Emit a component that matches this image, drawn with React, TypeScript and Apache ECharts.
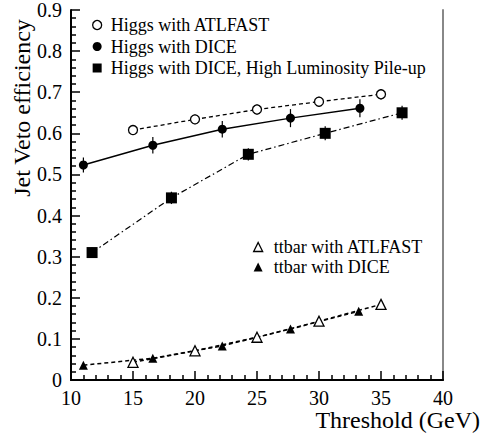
import React, { useEffect, useRef } from "react";
import * as echarts from "echarts";

const higgsAtlfastX = [15, 20, 25, 30, 35];
const higgsAtlfastY = [0.608, 0.634, 0.658, 0.677, 0.695];
const higgsAtlfastErr = [0.012, 0.012, 0.012, 0.012, 0.013];

const higgsDiceX = [11.0, 16.6, 22.2, 27.7, 33.3];
const higgsDiceY = [0.523, 0.571, 0.61, 0.637, 0.661];
const higgsDiceErr = [0.018, 0.02, 0.02, 0.022, 0.022];

const pileupX = [11.7, 18.1, 24.3, 30.5, 36.7];
const pileupY = [0.31, 0.443, 0.549, 0.6, 0.65];
const pileupErr = [0.012, 0.015, 0.015, 0.017, 0.017];

const ttAtlfastX = [15, 20, 25, 30, 35];
const ttAtlfastY = [0.043, 0.071, 0.104, 0.143, 0.184];
const ttAtlfastErr = [0.005, 0.005, 0.006, 0.006, 0.007];

const ttDiceX = [11.0, 16.6, 22.2, 27.7, 33.2];
const ttDiceY = [0.036, 0.053, 0.083, 0.124, 0.167];
const ttDiceErr = [0.004, 0.005, 0.005, 0.006, 0.007];

const seriesNames = [
  "Higgs with ATLFAST",
  "Higgs with DICE",
  "Higgs with DICE, High Luminosity Pile-up",
  "ttbar with ATLFAST",
  "ttbar with DICE",
];

const FONT = "'Liberation Serif', 'Times New Roman', serif";

const pts = (xs: number[], ys: number[]) => xs.map((x, i) => [x, ys[i]]);
const errs = (xs: number[], ys: number[], es: number[]) =>
  xs.map((x, i) => [x, ys[i] - es[i], ys[i] + es[i]]);

export default function App() {
  const ref = useRef<HTMLDivElement>(null);
  useEffect(() => {
    if (!ref.current) return;
    const chart = echarts.init(ref.current, null, { renderer: "svg" });
    const errData = [
      ...errs(higgsAtlfastX, higgsAtlfastY, higgsAtlfastErr),
      ...errs(higgsDiceX, higgsDiceY, higgsDiceErr),
      ...errs(pileupX, pileupY, pileupErr),
      ...errs(ttAtlfastX, ttAtlfastY, ttAtlfastErr),
      ...errs(ttDiceX, ttDiceY, ttDiceErr),
    ];
    const open = { color: "#fff", borderColor: "#000", borderWidth: 1.3 };
    const filled = { color: "#000", borderColor: "#000", borderWidth: 0 };
    chart.setOption({
      animation: false,
      backgroundColor: "#fff",
      textStyle: { fontFamily: FONT },
      grid: { left: 71, right: 39, top: 8, bottom: 55, show: false },
      legend: [
        {
          left: 92,
          top: 16,
          orient: "vertical",
          padding: 0,
          itemGap: 3.5,
          itemWidth: 9,
          itemHeight: 9,
          selectedMode: false,
          textStyle: { fontFamily: FONT, fontSize: 18, color: "#000", lineHeight: 18, padding: [0, 0, 0, 4] },
          data: [
            { name: seriesNames[0], icon: "circle", itemStyle: open },
            { name: seriesNames[1], icon: "circle", itemStyle: filled },
            { name: seriesNames[2], icon: "rect", itemStyle: filled },
          ],
        },
        {
          left: 253,
          top: 238,
          orient: "vertical",
          padding: 0,
          itemGap: 2,
          itemWidth: 9,
          itemHeight: 9,
          selectedMode: false,
          textStyle: { fontFamily: FONT, fontSize: 18, color: "#000", lineHeight: 18, padding: [0, 0, 0, 6] },
          data: [
            { name: seriesNames[3], icon: "triangle", itemStyle: open },
            { name: seriesNames[4], icon: "triangle", itemStyle: filled },
          ],
        },
      ],
      xAxis: [
        {
          type: "value",
          min: 10,
          max: 40,
          interval: 5,
          axisLine: { lineStyle: { color: "#000", width: 2 } },
          axisTick: { inside: true, length: 9, lineStyle: { color: "#000", width: 1.5 } },
          minorTick: { show: true, splitNumber: 5, length: 5, lineStyle: { color: "#000", width: 1.5 } },
          splitLine: { show: false },
          axisLabel: { fontFamily: FONT, fontSize: 20, color: "#000", margin: 8 },
        },
        {
          type: "value",
          position: "top",
          min: 10,
          max: 40,
          axisLine: { show: true, lineStyle: { color: "#000", width: 1.5 } },
          axisTick: { show: false },
          axisLabel: { show: false },
          splitLine: { show: false },
        },
      ],
      yAxis: [
        {
          type: "value",
          min: 0,
          max: 0.9,
          interval: 0.1,
          axisLine: { lineStyle: { color: "#000", width: 2 } },
          axisTick: { inside: true, length: 9, lineStyle: { color: "#000", width: 1.5 } },
          minorTick: { show: true, splitNumber: 5, length: 5, lineStyle: { color: "#000", width: 1.5 } },
          splitLine: { show: false },
          axisLabel: {
            fontFamily: FONT,
            fontSize: 20,
            color: "#000",
            margin: 9,
            formatter: (v: number) => (v === 0 ? "0" : v.toFixed(1)),
          },
        },
        {
          type: "value",
          position: "right",
          min: 0,
          max: 0.9,
          axisLine: { show: true, lineStyle: { color: "#888", width: 2 } },
          axisTick: { show: false },
          axisLabel: { show: false },
          splitLine: { show: false },
        },
      ],
      series: [
        {
          type: "custom",
          name: "errors",
          z: 1,
          data: errData,
          renderItem: (params: any, api: any) => {
            const x = api.value(0);
            const lo = api.coord([x, api.value(1)]);
            const hi = api.coord([x, api.value(2)]);
            return {
              type: "line",
              shape: { x1: lo[0], y1: lo[1], x2: hi[0], y2: hi[1] },
              style: { stroke: "#000", lineWidth: 1.2 },
            };
          },
        },
        {
          type: "line",
          name: seriesNames[0],
          z: 3,
          data: pts(higgsAtlfastX, higgsAtlfastY),
          symbol: "circle",
          symbolSize: 9,
          itemStyle: open,
          lineStyle: { color: "#000", width: 1.3, type: [4, 3] },
        },
        {
          type: "line",
          name: seriesNames[1],
          z: 3,
          data: pts(higgsDiceX, higgsDiceY),
          symbol: "circle",
          symbolSize: 9,
          itemStyle: filled,
          lineStyle: { color: "#000", width: 1.5, type: "solid" },
        },
        {
          type: "line",
          name: seriesNames[2],
          z: 3,
          data: pts(pileupX, pileupY),
          symbol: "rect",
          symbolSize: 11,
          itemStyle: filled,
          lineStyle: { color: "#000", width: 1.2, type: [6, 3, 1.5, 3] },
        },
        {
          type: "line",
          name: seriesNames[3],
          z: 3,
          data: pts(ttAtlfastX, ttAtlfastY),
          symbol: "triangle",
          symbolSize: 10,
          itemStyle: open,
          lineStyle: { color: "#000", width: 1.5, type: [4, 3] },
        },
        {
          type: "line",
          name: seriesNames[4],
          z: 3,
          data: pts(ttDiceX, ttDiceY),
          symbol: "triangle",
          symbolSize: 9,
          itemStyle: filled,
          lineStyle: { color: "#000", width: 1.5, type: [4, 3] },
        },
      ],
      graphic: [
        {
          type: "text",
          x: 22,
          y: 108,
          rotation: Math.PI / 2,
          style: {
            text: "Jet Veto efficiency",
            fontFamily: FONT,
            fontSize: 24,
            fill: "#000",
            align: "center",
            verticalAlign: "middle",
          },
        },
        {
          type: "text",
          x: 480,
          y: 420,
          style: {
            text: "Threshold (GeV)",
            fontFamily: FONT,
            fontSize: 24,
            fill: "#000",
            align: "right",
            verticalAlign: "middle",
          },
        },
      ],
    });
    return () => chart.dispose();
  }, []);
  return (
    <div
      ref={ref}
      style={{ position: "absolute", left: 0, top: 0, width: 482, height: 435 }}
    />
  );
}
